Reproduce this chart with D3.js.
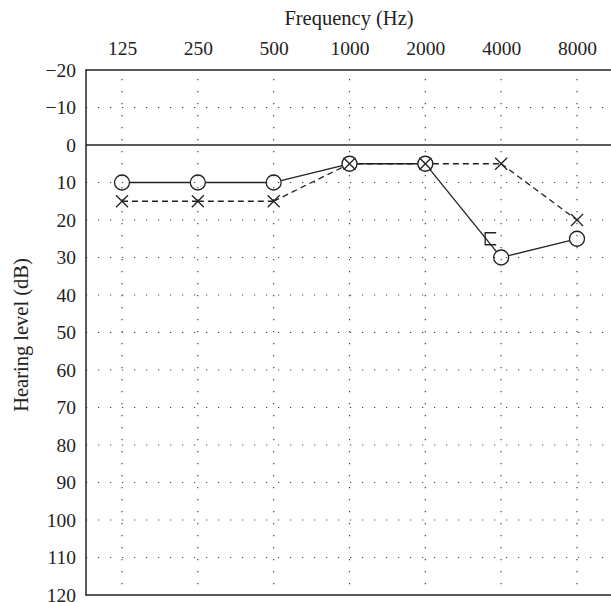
<!DOCTYPE html>
<html>
<head>
<meta charset="utf-8">
<script src="https://cdn.jsdelivr.net/npm/d3@7"></script>
<style>
  body { margin: 0; background: #fff; }
  text { font-family: "Liberation Serif", "DejaVu Serif", serif; fill: #222; }
</style>
</head>
<body>
<div id="chart"></div>
<script>
// audiogram data
var freqs = ["125", "250", "500", "1000", "2000", "4000", "8000"];
var rightAir = [10, 10, 10, 5, 5, 30, 25];   // O, solid
var leftAir = [15, 15, 15, 5, 5, 5, 20];     // X, dashed
var rightBoneMaskedFreq = ["4000"];          // [ symbol
var rightBoneMaskedDb = [25];
var yTicks = [-20, -10, 0, 10, 20, 30, 40, 50, 60, 70, 80, 90, 100, 110, 120];

var width = 611, height = 602;
var plotLeft = 86, plotTop = 70, plotBottom = 595;
var ink = "#222";
var r = 7.5, xs = 6;

var svg = d3.select("#chart")
    .append("svg")
    .attr("width", width)
    .attr("height", height);

var xScale = d3.scalePoint()
    .domain(freqs)
    .range([122, 577]);

var yScale = d3.scaleLinear()
    .domain([-20, 120])
    .range([plotTop, plotBottom]);

// dotted grid
svg.append("g")
    .selectAll("line")
    .data(yTicks.filter(function(d){ return d != -20 && d != 0 && d != 120; }))
    .enter()
    .append("line")
    .attr("x1", plotLeft).attr("x2", width)
    .attr("y1", d => yScale(d)).attr("y2", d => yScale(d))
    .attr("stroke", "#444")
    .attr("stroke-width", 1.2)
    .attr("stroke-dasharray", "1.2,10.8");
svg.append("g")
    .selectAll("line")
    .data(freqs)
    .enter()
    .append("line")
    .attr("x1", d => xScale(d)).attr("x2", d => xScale(d))
    .attr("y1", plotTop).attr("y2", plotBottom)
    .attr("stroke", "#444")
    .attr("stroke-width", 1.2)
    .attr("stroke-dasharray", "1.2,10.8")
    .attr("stroke-dashoffset", 3);

// frame + zero line
var frame = svg.append("g").attr("stroke", ink).attr("stroke-width", 1.5);
frame.append("line").attr("x1", plotLeft).attr("x2", width).attr("y1", plotTop).attr("y2", plotTop);
frame.append("line").attr("x1", plotLeft).attr("x2", width).attr("y1", yScale(0)).attr("y2", yScale(0));
frame.append("line").attr("x1", plotLeft).attr("x2", width).attr("y1", plotBottom).attr("y2", plotBottom);
frame.append("line").attr("x1", plotLeft).attr("x2", plotLeft).attr("y1", plotTop - 0.75).attr("y2", plotBottom + 0.75);

// axes
var yAxis = d3.axisLeft(yScale).tickValues(yTicks).tickSize(0).tickPadding(10);
svg.append("g")
    .attr("transform", "translate(" + plotLeft + ",0)")
    .call(yAxis)
    .call(g => g.select(".domain").remove())
    .selectAll("text")
    .attr("font-size", 19.5)
    .attr("font-family", "Liberation Serif")
    .attr("fill", ink);

var xAxis = d3.axisTop(xScale).tickSize(0).tickPadding(15);
svg.append("g")
    .attr("transform", "translate(0," + plotTop + ")")
    .call(xAxis)
    .call(g => g.select(".domain").remove())
    .selectAll("text")
    .attr("font-size", 19.5)
    .attr("font-family", "Liberation Serif")
    .attr("fill", ink);

svg.append("text")
    .attr("x", 349)
    .attr("y", 25)
    .attr("text-anchor", "middle")
    .attr("font-size", 20.5)
    .text("Frequency (Hz)");
svg.append("text")
    .attr("transform", "translate(28,335) rotate(-90)")
    .attr("text-anchor", "middle")
    .attr("font-size", 20.5)
    .text("Hearing level (dB)");

// points
var rightPts = freqs.map((f, i) => ({x: xScale(f), y: yScale(rightAir[i])}));
var leftPts = freqs.map((f, i) => ({x: xScale(f), y: yScale(leftAir[i])}));

function hasCircle(p){
    return rightPts.some(q => Math.abs(q.x - p.x) < 0.5 && Math.abs(q.y - p.y) < 0.5);
}
function segments(pts, trim){
    var segs = [];
    for (var i = 0; i < pts.length - 1; i++) {
        var a = pts[i], b = pts[i + 1];
        var dx = b.x - a.x, dy = b.y - a.y, len = Math.sqrt(dx*dx + dy*dy);
        var ta = trim(a) / len, tb = trim(b) / len;
        segs.push([a.x + dx*ta, a.y + dy*ta, b.x - dx*tb, b.y - dy*tb]);
    }
    return segs;
}

svg.append("g")
    .selectAll("line")
    .data(segments(leftPts, p => hasCircle(p) ? r : 0))
    .enter()
    .append("line")
    .attr("x1", d => d[0]).attr("y1", d => d[1])
    .attr("x2", d => d[2]).attr("y2", d => d[3])
    .attr("stroke", ink)
    .attr("stroke-width", 1.3)
    .attr("stroke-dasharray", "6,4");

svg.append("g")
    .selectAll("line")
    .data(segments(rightPts, p => r))
    .enter()
    .append("line")
    .attr("x1", d => d[0]).attr("y1", d => d[1])
    .attr("x2", d => d[2]).attr("y2", d => d[3])
    .attr("stroke", ink)
    .attr("stroke-width", 1.3);

svg.append("g")
    .selectAll("circle")
    .data(rightPts)
    .enter()
    .append("circle")
    .attr("cx", d => d.x)
    .attr("cy", d => d.y)
    .attr("r", r)
    .attr("fill", "none")
    .attr("stroke", ink)
    .attr("stroke-width", 1.3);

svg.append("g")
    .selectAll("path")
    .data(leftPts)
    .enter()
    .append("path")
    .attr("d", d => "M" + (d.x - xs) + "," + (d.y - xs) + "L" + (d.x + xs) + "," + (d.y + xs) +
                    "M" + (d.x - xs) + "," + (d.y + xs) + "L" + (d.x + xs) + "," + (d.y - xs))
    .attr("fill", "none")
    .attr("stroke", ink)
    .attr("stroke-width", 1.3);

// masked bone conduction bracket
svg.append("g")
    .selectAll("path")
    .data(rightBoneMaskedFreq.map((f, i) => ({x: xScale(f), y: yScale(rightBoneMaskedDb[i])})))
    .enter()
    .append("path")
    .attr("d", d => "M" + (d.x - 5) + "," + (d.y - 6) + "H" + (d.x - 16) + "V" + (d.y + 6) + "H" + (d.x - 5))
    .attr("fill", "none")
    .attr("stroke", ink)
    .attr("stroke-width", 1.3);
</script>
</body>
</html>
